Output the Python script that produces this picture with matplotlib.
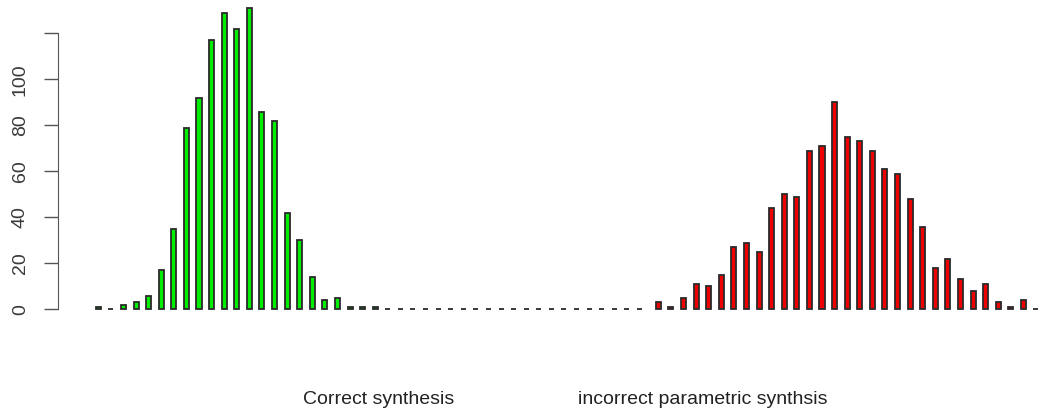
import matplotlib
matplotlib.use("Agg")
import matplotlib.pyplot as plt
import numpy as np

# counts per bin (each series sums to 1000)
green_counts = [1, 0, 2, 3, 6, 17, 35, 79, 92, 117, 129, 122, 131, 86, 82,
                42, 30, 14, 4, 5, 1, 1, 1, 0, 0, 0, 0, 0, 0, 0, 0, 0, 0, 0,
                0, 0, 0, 0, 0, 0, 0, 0, 0, 0]
red_counts = [3, 1, 5, 11, 10, 15, 27, 29, 25, 44, 50, 49, 69, 71, 90, 75,
              73, 69, 61, 59, 48, 36, 18, 22, 13, 8, 11, 3, 1, 4, 0, 0]
y_ticks = [0, 20, 40, 60, 80, 100, 120]
y_labels = ["0", "20", "40", "60", "80", "100", ""]
group_labels = ["Correct synthesis", "incorrect parametric synthsis"]

plt.rcParams["font.family"] = ["Liberation Sans", "DejaVu Sans"]

W, H = 1045, 412
fig = plt.figure(figsize=(W / 100, H / 100), dpi=100)

# plot region in pixels: y axis line at x=58, baseline at y=310
left_px, base_px, top_px = 58, 310, 0
ax = fig.add_axes([left_px / W, (H - base_px) / H,
                   (W - left_px) / W, (base_px - top_px) / H])

px_per_bin = 12.586
px_per_unit = 2.3
first_bar_px = 98.3
xmin = -(first_bar_px - left_px) / px_per_bin
ax.set_xlim(xmin, xmin + (W - left_px) / px_per_bin)
ax.set_ylim(-0.3, (base_px - top_px) / px_per_unit - 0.3)

green_x = np.arange(len(green_counts))
red_x = len(green_counts) + 0.5 + np.arange(len(red_counts))

bar_kw = dict(width=0.4, edgecolor="#2a2a2a", linewidth=1.3, clip_on=True)
ax.bar(green_x, green_counts, color="#00ee00", **bar_kw)
ax.bar(red_x, red_counts, color="#ee0000", **bar_kw)

for s in ["top", "right", "bottom"]:
    ax.spines[s].set_visible(False)
ax.spines["left"].set_bounds(0, 120)
ax.spines["left"].set_color("#555555")
ax.set_xticks([])
ax.set_yticks(y_ticks)
ax.set_yticklabels(y_labels, rotation=90, va="center")
ax.tick_params(axis="y", length=10, width=1, color="#555555",
               labelsize=14, labelcolor="#3a3a3a", pad=11)

fig.text(379 / W, 1 - 399 / H, group_labels[0], ha="center", va="center",
         fontsize=14, color="#222222")
fig.text(703 / W, 1 - 399 / H, group_labels[1], ha="center", va="center",
         fontsize=14, color="#222222")

fig.savefig("out.png", dpi=100)
